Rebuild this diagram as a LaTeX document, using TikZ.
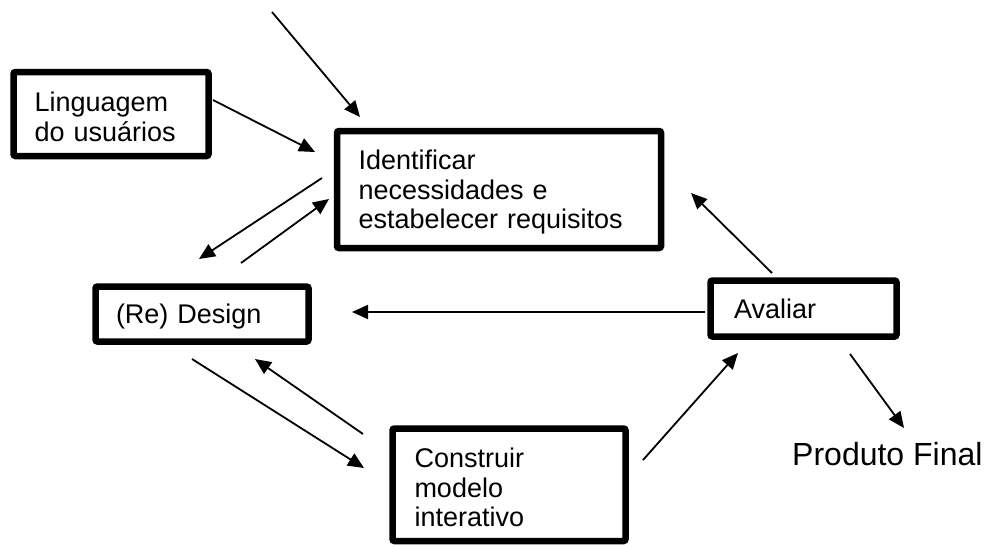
\documentclass[tikz,border=0pt]{standalone}
\usepackage{fontspec}
\setmainfont{Liberation Sans}
\usetikzlibrary{arrows.meta}
\newcommand\myup{\rule{0pt}{25pt}}
\begin{document}
\begin{tikzpicture}[x=1pt,y=-1pt,
  box/.style={draw=black, line width=6.5pt, rounded corners=2pt, align=left,
    inner ysep=0pt, font=\fontsize{27}{29.5}\selectfont},
  conn/.style={line width=1.8pt, -{Triangle[length=16pt,width=14pt]}},
  plain/.style={inner sep=0pt, font=\fontsize{32}{34}\selectfont}]
\useasboundingbox (0,0) rectangle (987,544);

% boxes (centres of the stroke paths)
\node[box, inner xsep=21pt, text width=153pt, minimum width=195pt, minimum height=84pt]
  (ling) at (111,114) {\myup Linguagem\\do usuários};
\node[box, inner xsep=21.5pt, text width=281pt, minimum width=324pt, minimum height=117pt]
  (ident) at (499,189.5) {\myup Identificar\\necessidades e\\estabelecer requisitos};
\node[box, inner xsep=20.5pt, text width=172pt, minimum width=213pt, minimum height=55pt]
  (design) at (202,314) {\myup (Re) Design};
\node[box, inner xsep=23.5pt, text width=139pt, minimum width=186pt, minimum height=56pt]
  (aval) at (803.5,308.5) {Avaliar};
\node[box, inner xsep=22pt, text width=189pt, minimum width=233pt, minimum height=112.5pt]
  (constr) at (509,484.75) {\myup Construir\\modelo\\interativo};
\node[plain, anchor=base west] (final) at (792,465) {Produto Final};

% connector end points
\coordinate (topS) at (272,12);     \coordinate (topE) at (360,117);
\coordinate (lingS) at (213,100);   \coordinate (lingE) at (315,152);
\coordinate (idDS) at (322,178);    \coordinate (idDE) at (199,259);
\coordinate (deIS) at (241,263);    \coordinate (deIE) at (329,199);
\coordinate (avDS) at (705,312);    \coordinate (avDE) at (352,312);
\coordinate (avIS) at (772,273);    \coordinate (avIE) at (691,193);
\coordinate (deCS) at (192,359);    \coordinate (deCE) at (364,468);
\coordinate (coDS) at (363,434);    \coordinate (coDE) at (255,359);
\coordinate (coAS) at (643,460);    \coordinate (coAE) at (738,353);
\coordinate (avFS) at (850,354);    \coordinate (avFE) at (904,428);

\draw[conn] (topS) -- (topE);
\draw[conn] (lingS) -- (lingE);
\draw[conn] (idDS) -- (idDE);
\draw[conn] (deIS) -- (deIE);
\draw[conn] (avDS) -- (avDE);
\draw[conn] (avIS) -- (avIE);
\draw[conn] (deCS) -- (deCE);
\draw[conn] (coDS) -- (coDE);
\draw[conn] (coAS) -- (coAE);
\draw[conn] (avFS) -- (avFE);
\end{tikzpicture}
\end{document}
